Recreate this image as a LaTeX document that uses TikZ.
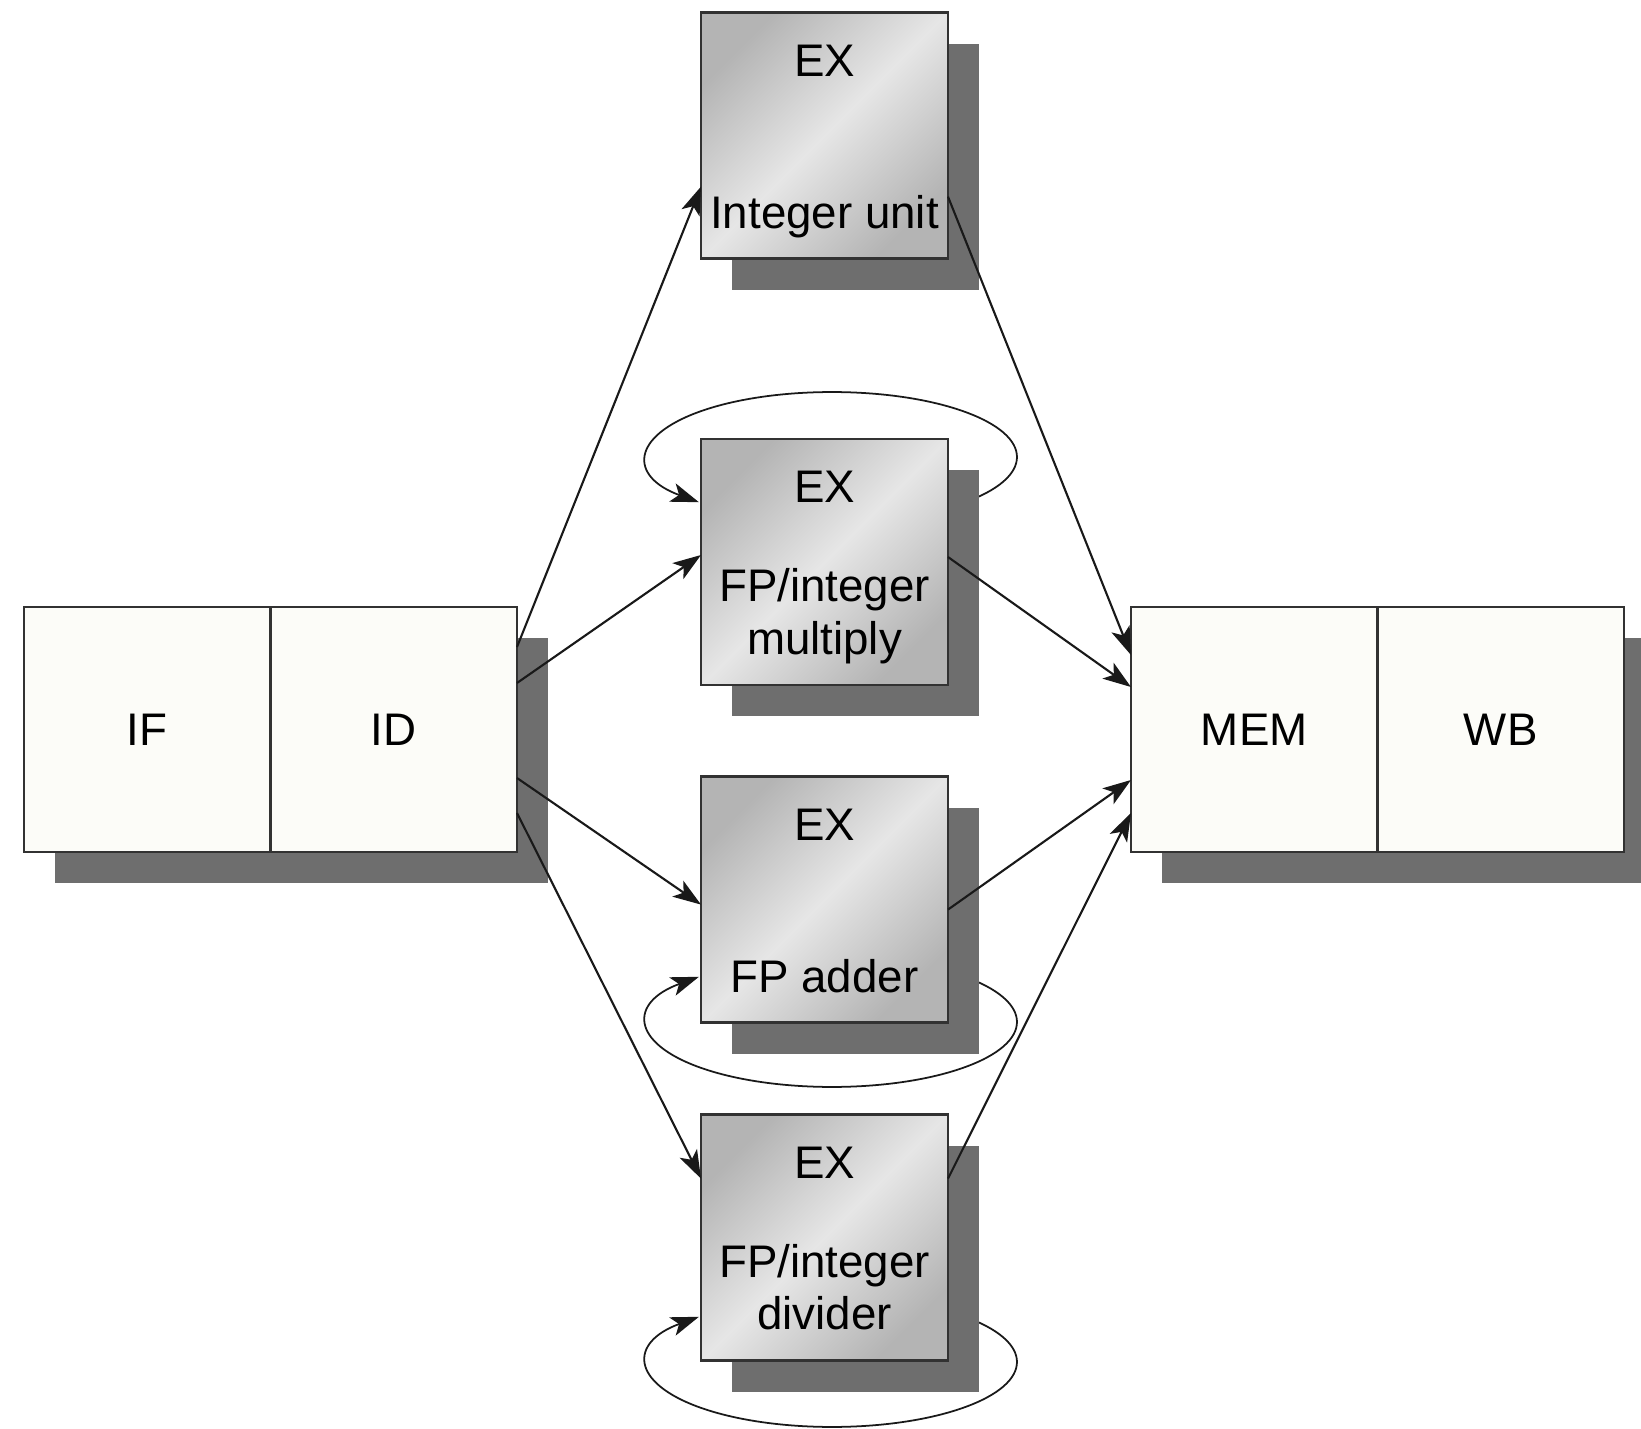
\documentclass[tikz,border=0pt]{standalone}
\usepackage{fontspec}
\setmainfont{Liberation Sans}
\usetikzlibrary{arrows.meta,positioning,shadows,backgrounds}
\definecolor{shadowgray}{RGB}{110,110,110}
\definecolor{stagefill}{RGB}{252,252,248}
\definecolor{exdark}{RGB}{180,180,180}
\definecolor{exlight}{RGB}{230,230,230}
\definecolor{edgegray}{RGB}{50,50,50}
\tikzset{
  boxshadow/.style={drop shadow={shadow xshift=.31cm, shadow yshift=-.31cm, fill=shadowgray, opacity=1}},
  stage/.style={draw=edgegray, line width=.65pt, fill=stagefill, minimum width=2.465cm,
    minimum height=2.45cm, inner sep=0pt, outer sep=0pt, boxshadow},
  exbox/.style={draw=edgegray, line width=.65pt, top color=exdark, bottom color=exdark,
    middle color=exlight, shading angle=45, minimum width=2.47cm, minimum height=2.46cm,
    inner sep=0pt, outer sep=0pt, boxshadow},
  extext/.style={anchor=base, align=center, inner sep=0pt},
  flow/.style={->, line width=.6pt, draw=black!90},
  loopline/.style={->, line width=.5pt, draw=black!90}
}
\begin{document}
\begin{tikzpicture}[>={Stealth[length=8pt,width=5.5pt,inset=2pt]},
  every node/.style={font=\fontsize{13pt}{14.8pt}\selectfont}]
\useasboundingbox (0,0) rectangle (16.41,-14.29);
% pipeline stages
\node[stage] (if) at (1.4725,-7.295) {IF};
\node[stage, right=0pt of if] (id) {ID};
\node[stage] (mem) at (12.5425,-7.295) {MEM};
\node[stage, right=0pt of mem] (wb) {WB};
% execution units
\node[exbox] (intu) at (8.245,-1.356) {};
\node[exbox] (mul) at (8.245,-5.62) {};
\node[exbox] (add) at (8.245,-8.996) {};
\node[exbox] (div) at (8.245,-12.376) {};
\node[extext] (intu-ex) at ([yshift=.59cm]intu.center) {EX};
\node[extext] (intu-lb) at ([yshift=-.93cm]intu.center) {Integer unit};
\node[extext] (mul-ex) at ([yshift=.59cm]mul.center) {EX};
\node[extext] (mul-lb) at ([yshift=-.92cm]mul.center) {FP/integer\\multiply};
\node[extext] (add-ex) at ([yshift=.59cm]add.center) {EX};
\node[extext] (add-lb) at ([yshift=-.93cm]add.center) {FP adder};
\node[extext] (div-ex) at ([yshift=.59cm]div.center) {EX};
\node[extext] (div-lb) at ([yshift=-.92cm]div.center) {FP/integer\\divider};
% ID to EX
\draw[flow] ([yshift=-.40cm]id.north east) -- ([yshift=-1.74cm]intu.north west);
\draw[flow] ([yshift=-.76cm]id.north east) -- ([yshift=-1.16cm]mul.north west);
\draw[flow] ([yshift=-1.71cm]id.north east) -- ([yshift=-1.28cm]add.north west);
\draw[flow] ([yshift=-2.06cm]id.north east) -- ([yshift=-.64cm]div.north west);
% EX to MEM
\draw[flow] ([yshift=-1.84cm]intu.north east) -- ([yshift=-.48cm]mem.north west);
\draw[flow] ([yshift=-1.18cm]mul.north east) -- ([yshift=-.80cm]mem.north west);
\draw[flow] ([yshift=-1.33cm]add.north east) -- ([yshift=-1.73cm]mem.north west);
\draw[flow] ([yshift=-.64cm]div.north east) -- ([yshift=-2.06cm]mem.north west);
% repeat loops, behind the units
\begin{scope}[on background layer]
\fill[white] (0,0) rectangle (16.41,-14.29);
\draw[loopline] ([shift={(1.383,.590)}]mul.center)
  arc[start angle=-45, end angle=224, x radius=1.85, y radius=.65];
\draw[loopline] ([shift={(1.383,-.764)}]add.center)
  arc[start angle=45, end angle=-224, x radius=1.85, y radius=.65];
\draw[loopline] ([shift={(1.383,-.784)}]div.center)
  arc[start angle=45, end angle=-224, x radius=1.85, y radius=.65];
\end{scope}
\end{tikzpicture}
\end{document}
